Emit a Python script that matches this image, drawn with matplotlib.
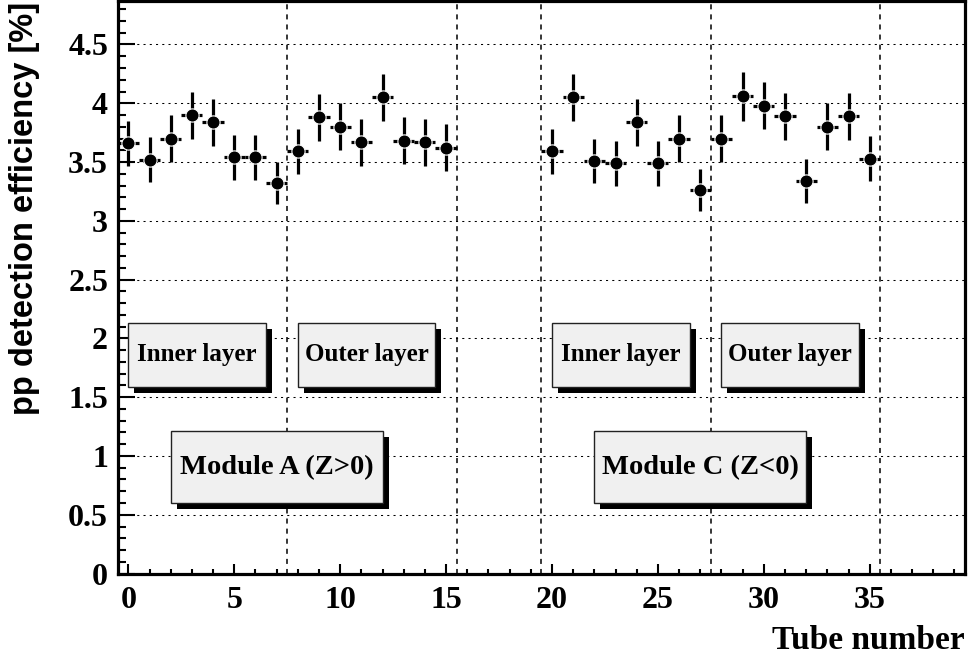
import matplotlib
matplotlib.use("Agg")
import matplotlib.pyplot as plt
import matplotlib.transforms as mtransforms
from matplotlib.patches import Rectangle
from matplotlib.ticker import MultipleLocator

# Module A (Z>0): tubes 0-15, Module C (Z<0): tubes 20-35
tubes_a = list(range(0, 16))
eff_a = [3.66, 3.52, 3.70, 3.90, 3.84, 3.54, 3.54, 3.32,
         3.59, 3.88, 3.80, 3.67, 4.05, 3.68, 3.67, 3.62]
err_a = [0.19, 0.19, 0.20, 0.20, 0.20, 0.19, 0.19, 0.18,
         0.19, 0.20, 0.20, 0.20, 0.20, 0.20, 0.20, 0.20]

tubes_c = list(range(20, 36))
eff_c = [3.59, 4.05, 3.51, 3.49, 3.84, 3.49, 3.70, 3.26,
         3.70, 4.06, 3.98, 3.89, 3.34, 3.80, 3.89, 3.53]
err_c = [0.19, 0.20, 0.19, 0.19, 0.20, 0.19, 0.20, 0.18,
         0.20, 0.21, 0.20, 0.20, 0.19, 0.20, 0.20, 0.19]

separators = [7.5, 15.5, 19.5, 27.5, 35.5]

# label boxes: (x0, x1, y0, y1, text, fontsize)
boxes = [
    (0.0, 6.5, 1.59, 2.13, "Inner layer", 18),
    (8.0, 14.5, 1.59, 2.13, "Outer layer", 18),
    (20.0, 26.5, 1.59, 2.13, "Inner layer", 18),
    (28.0, 34.5, 1.59, 2.13, "Outer layer", 18),
    (2.0, 12.0, 0.60, 1.21, "Module A (Z>0)", 20.5),
    (22.0, 32.0, 0.60, 1.21, "Module C (Z<0)", 20.5),
]

serif = ["Liberation Serif", "DejaVu Serif"]
sans = ["Liberation Sans", "DejaVu Sans"]

fig = plt.figure(figsize=(9.69, 6.60), dpi=100)
ax = fig.add_axes([0.1215, 0.131, 0.8744, 0.8675])

ax.set_xlim(-0.5, 39.5)
ax.set_ylim(0, 4.87)

# grid: dotted horizontal lines, dashed module/layer separators
for y in [0.5 * i for i in range(1, 10)]:
    ax.axhline(y, color="black", lw=0.75, ls=(0, (2, 4)), zorder=1)
for x in separators:
    ax.axvline(x, color="black", lw=1.1, ls=(0, (3.3, 3.3)), zorder=1)

# boxes with drop shadow
shadow_tr = mtransforms.offset_copy(ax.transData, fig=fig, x=6, y=-6, units="dots")
for x0, x1, y0, y1, label, fs in boxes:
    ax.add_patch(Rectangle((x0, y0), x1 - x0, y1 - y0, transform=shadow_tr,
                           facecolor="black", edgecolor="black", lw=0, zorder=3))
    ax.add_patch(Rectangle((x0, y0), x1 - x0, y1 - y0,
                           facecolor="#f0f0f0", edgecolor="#222222", lw=1.0, zorder=4))
    ax.text((x0 + x1) / 2, (y0 + y1) / 2, label, ha="center", va="center",
            fontsize=fs, fontweight="bold", family=serif, zorder=5)

for tubes, eff, err in [(tubes_a, eff_a, err_a), (tubes_c, eff_c, err_c)]:
    ax.errorbar(tubes, eff, xerr=0.5, yerr=err, fmt="o", color="black",
                ms=9.5, mec="white", mew=0.8, elinewidth=2.3, capsize=0, zorder=6)

ax.xaxis.set_major_locator(MultipleLocator(5))
ax.xaxis.set_minor_locator(MultipleLocator(1))
ax.yaxis.set_major_locator(MultipleLocator(0.5))
ax.yaxis.set_minor_locator(MultipleLocator(0.1))
ax.tick_params(which="both", direction="in", top=False, right=False, width=1.5)
ax.tick_params(axis="x", which="major", length=7, pad=9)
ax.tick_params(axis="x", which="minor", length=3.5)
ax.tick_params(axis="y", which="major", length=12, pad=7)
ax.tick_params(axis="y", which="minor", length=6)

ax.set_xticks(range(0, 36, 5))
ax.set_xticklabels([str(v) for v in range(0, 36, 5)])
yt = [0.5 * i for i in range(0, 10)]
ax.set_yticks(yt)
ax.set_yticklabels(["%g" % v for v in yt])
for lab in ax.get_xticklabels() + ax.get_yticklabels():
    lab.set_family(serif)
    lab.set_fontweight("bold")
    lab.set_fontsize(23)

for sp in ax.spines.values():
    sp.set_linewidth(2.3)
    sp.set_zorder(7)

fig.text(965 / 969, 11 / 660, "Tube number", ha="right", va="baseline",
         fontsize=24, fontweight="bold", family=serif)
fig.text(25 / 969, 1 - 2 / 660, "pp detection efficiency [%]", rotation=90,
         ha="center", va="top", fontsize=23.5, fontweight="bold", family=sans)

fig.savefig("out.png", dpi=100)
